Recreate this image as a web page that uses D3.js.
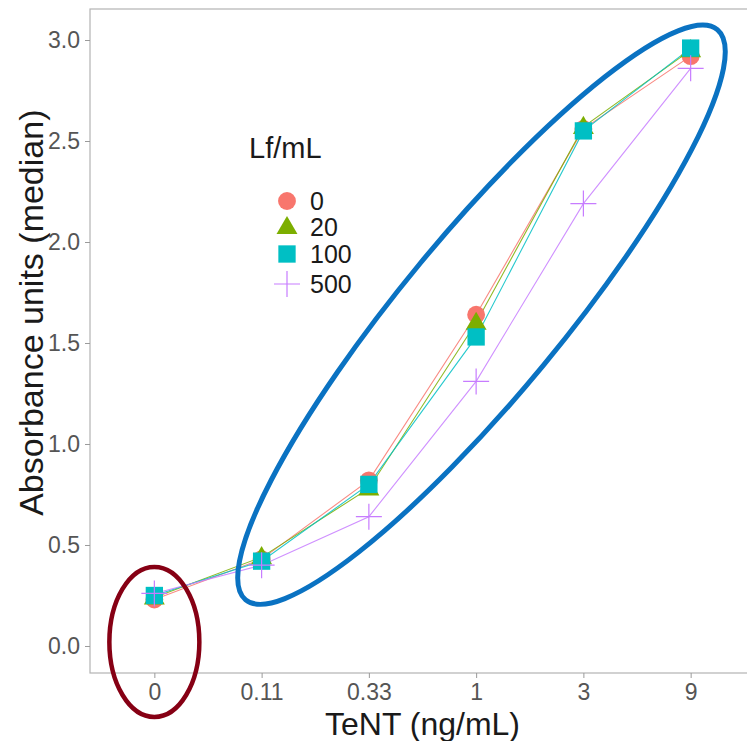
<!DOCTYPE html>
<html>
<head>
<meta charset="utf-8">
<script src="https://cdn.jsdelivr.net/npm/d3@7"></script>
<style>
  html, body { margin: 0; padding: 0; background: #fff; }
  svg { display: block; }
</style>
</head>
<body>
<svg id="chart" width="747" height="741"></svg>
<script>
// ---- data ----
const categories = ["0", "0.11", "0.33", "1", "3", "9"];
const seriesNames = ["0", "20", "100", "500"];
const lf0   = [0.23, 0.43, 0.82, 1.64, 2.56, 2.92];
const lf20  = [0.24, 0.44, 0.78, 1.60, 2.57, 2.95];
const lf100 = [0.25, 0.42, 0.80, 1.53, 2.55, 2.96];
const lf500 = [0.26, 0.40, 0.64, 1.31, 2.19, 2.86];
const yTicks = [0.0, 0.5, 1.0, 1.5, 2.0, 2.5, 3.0];
const seriesValues = [lf0, lf20, lf100, lf500];

const colors = ["#F8766D", "#7CAE00", "#00BFC4", "#C77CFF"];
const shapes = ["circle", "triangle", "square", "cross"];
const FONT = "Liberation Sans, Arial, sans-serif";

const svg = d3.select("#chart");
const panel = { left: 90, right: 755, top: 9, bottom: 673 };

const x = d3.scalePoint().domain(categories)
  .range([panel.left, panel.right]).padding(0.6);
const y = d3.scaleLinear().domain([-0.1337, 3.1535]).range([panel.bottom, panel.top]);

// panel border
svg.append("rect")
  .attr("x", panel.left).attr("y", panel.top)
  .attr("width", panel.right - panel.left).attr("height", panel.bottom - panel.top)
  .attr("fill", "none").attr("stroke", "#b3b3b3").attr("stroke-width", 1.2);

// axes
const yAxis = svg.append("g").attr("transform", `translate(${panel.left},0)`)
  .call(d3.axisLeft(y).tickValues(yTicks).tickFormat(d3.format(".1f")).tickSize(5).tickPadding(5));
const xAxis = svg.append("g").attr("transform", `translate(0,${panel.bottom})`)
  .call(d3.axisBottom(x).tickSize(5).tickPadding(6));
[xAxis, yAxis].forEach(g => {
  g.select(".domain").remove();
  g.selectAll(".tick line").attr("stroke", "#9a9a9a");
  g.selectAll(".tick text").attr("fill", "#555")
    .style("font-family", FONT).style("font-size", "23px");
});

// axis titles
svg.append("text")
  .attr("x", (panel.left + panel.right) / 2).attr("y", 735)
  .attr("text-anchor", "middle")
  .style("font-family", FONT).style("font-size", "32px")
  .attr("fill", "#1a1a1a").text("TeNT (ng/mL)");
svg.append("text")
  .attr("transform", `translate(43,${y(1.65)}) rotate(-90)`)
  .attr("text-anchor", "middle")
  .style("font-family", FONT).style("font-size", "34px")
  .attr("fill", "#1a1a1a").text("Absorbance units (median)");

// symbol helper
function drawSymbol(g, shape, color, cx, cy) {
  if (shape === "cross") {
    g.append("path")
      .attr("d", `M${cx - 13},${cy}H${cx + 13}M${cx},${cy - 13}V${cy + 13}`)
      .attr("stroke", color).attr("stroke-width", 1.2).attr("fill", "none");
  } else {
    const type = shape === "circle" ? d3.symbolCircle : shape === "triangle" ? d3.symbolTriangle : d3.symbolSquare;
    const size = shape === "circle" ? 250 : shape === "triangle" ? 190 : 300;
    g.append("path")
      .attr("d", d3.symbol().type(type).size(size)())
      .attr("transform", `translate(${cx},${cy + (shape === "triangle" ? 1 : 0)})`)
      .attr("fill", color);
  }
}

// lines
const line = d3.line().x((d, i) => x(categories[i])).y(d => y(d));
seriesValues.forEach((vals, s) => {
  svg.append("path").datum(vals)
    .attr("d", line)
    .attr("fill", "none").attr("stroke", colors[s]).attr("stroke-width", 1.1)
    .attr("stroke-opacity", 0.85);
});

// points
seriesValues.forEach((vals, s) => {
  const g = svg.append("g");
  vals.forEach((v, i) => drawSymbol(g, shapes[s], colors[s], x(categories[i]), y(v)));
});

// legend
const legend = svg.append("g");
legend.append("text").attr("x", 249).attr("y", 158)
  .style("font-family", FONT).style("font-size", "29px")
  .attr("fill", "#1a1a1a").text("Lf/mL");
const legendY = [201, 227, 254, 284];
seriesNames.forEach((name, s) => {
  drawSymbol(legend, shapes[s], colors[s], 287, legendY[s]);
  legend.append("text").attr("x", 310).attr("y", legendY[s]).attr("dy", "0.36em")
    .style("font-family", FONT).style("font-size", "25px")
    .attr("fill", "#1a1a1a").text(name);
});

// annotation ellipses (positioned from the scales)
const idx = d3.scaleLinear().domain([0, categories.length - 1])
  .range([x(categories[0]), x(categories[categories.length - 1])]);
svg.append("ellipse")
  .attr("cx", idx(0)).attr("cy", y(0.02))
  .attr("rx", 45).attr("ry", 75)
  .attr("fill", "none").attr("stroke", "#860014").attr("stroke-width", 4.5);
svg.append("ellipse")
  .attr("transform", `translate(${idx(3.05)},${y(1.64)}) rotate(-50.4)`)
  .attr("rx", 370).attr("ry", 80)
  .attr("fill", "none").attr("stroke", "#0A72C2").attr("stroke-width", 5);
</script>
</body>
</html>
